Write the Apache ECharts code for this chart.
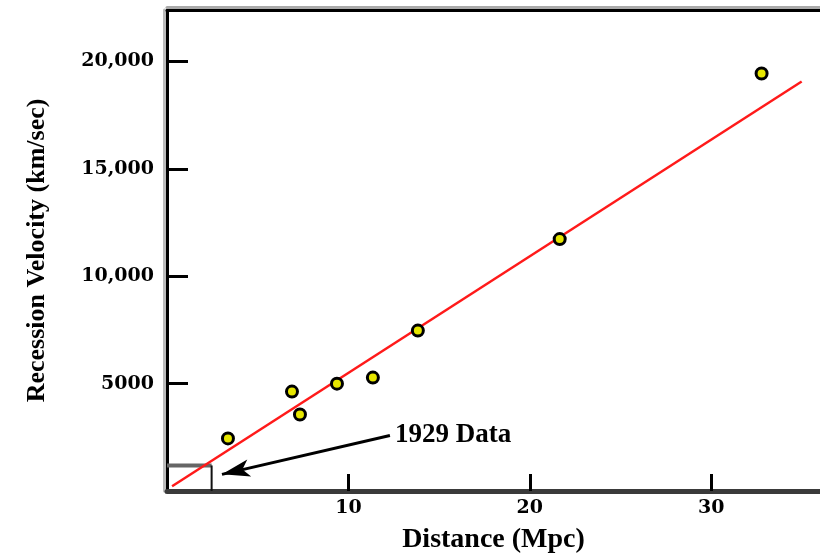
<!DOCTYPE html>
<html>
<head>
<meta charset="utf-8">
<script src="https://cdn.jsdelivr.net/npm/echarts@6/dist/echarts.min.js"></script>
<style>
html,body{margin:0;padding:0;background:#fff;}
#chart{width:820px;height:559px;}
</style>
</head>
<body>
<div id="chart"></div>
<script>
// Galaxy data (distance in Mpc, velocity in km/sec)
const distances = [3.36, 6.89, 7.33, 9.37, 11.35, 13.83, 21.65, 32.78];
const velocities = [2450, 4630, 3560, 5000, 5280, 7470, 11730, 19440];
// Fit line end points
const fitDistances = [0.28, 34.99];
const fitVelocities = [218, 19073];
// Extent of 1929 data
const box1929Distance = 2.46;
const box1929Velocity = 1190;
// Arrow from label to 1929 box
const arrowStart = [12.29, 2587];
const arrowEnd = [3.03, 776];
const arrowLabel = '1929 Data';
// Tick labels
const yTickValues = [5000, 10000, 15000, 20000];
const yTickLabels = ['5000', '10,000', '15,000', '20,000'];
const xTickValues = [10, 20, 30];
const xTickLabels = ['10', '20', '30'];

const serif = 'Liberation Serif';
const tickFont = 'DejaVu Serif';
const points = distances.map((d, i) => [d, velocities[i]]);
const fit = fitDistances.map((d, i) => [d, fitVelocities[i]]);

const chart = echarts.init(document.getElementById('chart'));
chart.setOption({
  animation: false,
  backgroundColor: '#fff',
  grid: {left: 167, top: 10, right: 0, bottom: 67},
  xAxis: [{
    type: 'value', min: 0, max: 36, interval: 10,
    name: 'Distance (Mpc)', nameLocation: 'middle', nameGap: 35,
    nameTextStyle: {fontFamily: serif, fontSize: 28, fontWeight: 'bold', color: '#000'},
    axisLine: {show: true, onZero: false, lineStyle: {color: '#3a3a3a', width: 5}},
    axisTick: {show: true, inside: true, length: 17, customValues: xTickValues, lineStyle: {color: '#000', width: 3}},
    axisLabel: {fontFamily: tickFont, fontSize: 19, fontWeight: 'bold', color: '#000', margin: 8, customValues: xTickValues,
      formatter: v => { const i = xTickValues.indexOf(v); return i >= 0 ? xTickLabels[i] : ''; }},
    splitLine: {show: false}
  }, {
    type: 'value', position: 'top', min: 0, max: 36,
    axisLine: {show: true, onZero: false, lineStyle: {color: '#000', width: 3, shadowColor: '#aaa', shadowOffsetY: -3, shadowBlur: 0}},
    axisTick: {show: false}, axisLabel: {show: false}, splitLine: {show: false}
  }],
  yAxis: {
    type: 'value', min: 0, max: 22400, interval: 5000,
    name: 'Recession Velocity (km/sec)', nameLocation: 'middle', nameGap: 117,
    nameTextStyle: {fontFamily: serif, fontSize: 26, fontWeight: 'bold', color: '#000'},
    axisLine: {show: true, onZero: false, lineStyle: {color: '#000', width: 3, shadowColor: '#bbb', shadowOffsetX: -3, shadowBlur: 0}},
    axisTick: {show: true, inside: true, length: 21, customValues: yTickValues, lineStyle: {color: '#000', width: 3}},
    axisLabel: {fontFamily: tickFont, fontSize: 19, fontWeight: 'bold', color: '#000', margin: 13, customValues: yTickValues,
      formatter: v => { const i = yTickValues.indexOf(v); return i >= 0 ? yTickLabels[i] : ''; }},
    splitLine: {show: false}
  },
  series: [
    {
      type: 'line', data: [[0, box1929Velocity], [box1929Distance, box1929Velocity]],
      symbol: 'none', lineStyle: {color: '#666', width: 4}, z: 3
    },
    {
      type: 'line', data: [[box1929Distance, box1929Velocity], [box1929Distance, 0]],
      symbol: 'none', lineStyle: {color: '#111', width: 2}, z: 3
    },
    {
      type: 'line', data: fit, symbol: 'none',
      lineStyle: {color: '#ff1a1a', width: 2.5}, z: 4
    },
    {
      type: 'scatter', data: [arrowStart], symbolSize: 0,
      itemStyle: {opacity: 1},
      label: {show: true, position: 'right', distance: 5, formatter: arrowLabel,
        fontFamily: serif, fontSize: 27, fontWeight: 'bold', color: '#000'},
      markLine: {
        silent: true, symbol: ['none', 'arrow'], symbolSize: [13, 28],
        label: {show: false},
        lineStyle: {color: '#000', width: 3, type: 'solid', opacity: 1},
        data: [[{coord: arrowStart}, {coord: arrowEnd}]]
      },
      z: 5
    },
    {
      type: 'scatter', data: points, symbol: 'circle', symbolSize: 11,
      itemStyle: {color: '#e6e600', borderColor: '#000', borderWidth: 3, opacity: 1},
      z: 6
    }
  ]
});
</script>
</body>
</html>
